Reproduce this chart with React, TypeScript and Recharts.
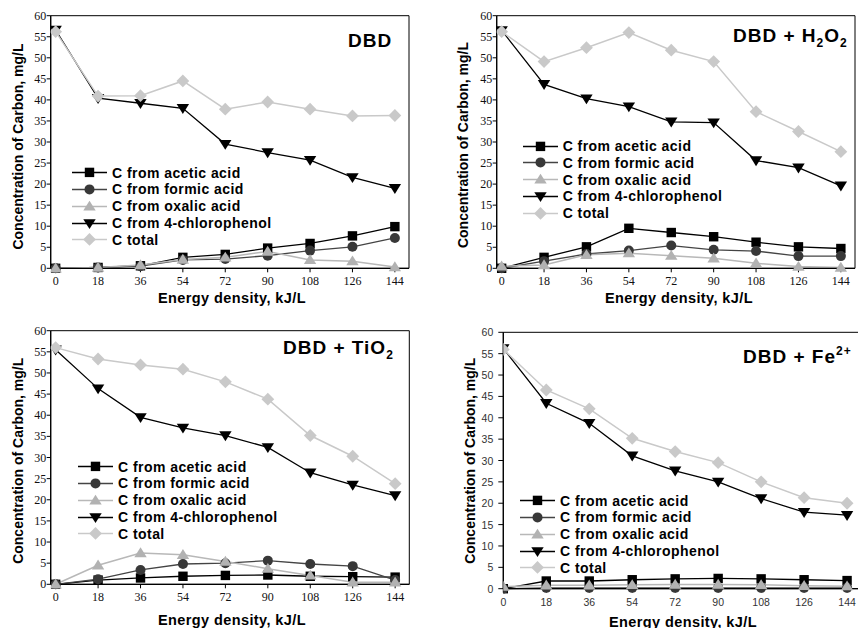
import { LineChart, Line, XAxis, YAxis, ReferenceArea, Legend } from "recharts";

// x values (energy density, kJ/L)
const ENERGY = [0, 18, 36, 54, 72, 90, 108, 126, 144];
const Y_TICKS = [0, 5, 10, 15, 20, 25, 30, 35, 40, 45, 50, 55, 60];
const Y_MINOR = [2.5, 7.5, 12.5, 17.5, 22.5, 27.5, 32.5, 37.5, 42.5, 47.5, 52.5, 57.5];

// DBD
const DBD_ACETIC = [0, 0.2, 0.6, 2.6, 3.3, 4.8, 5.9, 7.7, 9.9];
const DBD_FORMIC = [0, 0.2, 0.5, 2.0, 2.2, 3.0, 4.2, 5.1, 7.2];
const DBD_OXALIC = [0, 0.2, 0.8, 2.1, 2.6, 4.0, 2.0, 1.7, 0.3];
const DBD_CP = [56.6, 40.4, 39.2, 38.0, 29.5, 27.5, 25.7, 21.6, 19.0];
const DBD_TOTAL = [56.2, 40.9, 41.0, 44.5, 37.8, 39.5, 37.8, 36.2, 36.3];

// DBD + H2O2
const H2O2_ACETIC = [0, 2.6, 5.1, 9.5, 8.5, 7.5, 6.2, 5.1, 4.7];
const H2O2_FORMIC = [0, 1.7, 3.4, 4.2, 5.4, 4.4, 4.1, 2.9, 2.9];
const H2O2_OXALIC = [0.5, 0.8, 3.2, 3.6, 3.0, 2.4, 1.2, 0.4, 0.2];
const H2O2_CP = [56.5, 43.7, 40.3, 38.4, 34.8, 34.6, 25.6, 23.9, 19.6];
const H2O2_TOTAL = [56.2, 49.1, 52.4, 56.0, 51.8, 49.1, 37.2, 32.5, 27.7];

// DBD + TiO2
const TIO2_ACETIC = [0, 1.0, 1.5, 1.9, 2.1, 2.2, 1.9, 1.8, 1.7];
const TIO2_FORMIC = [0, 1.2, 3.4, 4.8, 5.0, 5.6, 4.8, 4.3, 1.0];
const TIO2_OXALIC = [0, 4.5, 7.4, 7.0, 5.4, 3.7, 2.1, 0.5, 0.5];
const TIO2_CP = [55.5, 46.3, 39.5, 37.0, 35.2, 32.4, 26.4, 23.5, 21.0];
const TIO2_TOTAL = [56.0, 53.3, 51.9, 50.9, 47.9, 43.8, 35.2, 30.3, 23.8];

// DBD + Fe2+
const FE_ACETIC = [0, 1.8, 1.8, 2.1, 2.3, 2.4, 2.3, 2.1, 1.9];
const FE_FORMIC = [0, 0.2, 0.2, 0.2, 0.2, 0.2, 0.2, 0.2, 0.2];
const FE_OXALIC = [0.5, 0.8, 0.8, 0.9, 1.0, 1.0, 0.9, 0.7, 0.6];
const FE_CP = [56.2, 43.4, 38.7, 31.1, 27.6, 25.0, 21.1, 17.9, 17.2];
const FE_TOTAL = [56.0, 46.5, 42.1, 35.2, 32.1, 29.5, 25.0, 21.3, 20.0];

const SERIES = [
  { key: "acetic", name: "C from acetic acid", shape: "square", color: "#000000", line: "#000000" },
  { key: "formic", name: "C from formic acid", shape: "circle", color: "#383838", line: "#444444" },
  { key: "oxalic", name: "C from oxalic acid", shape: "triangle", color: "#b2b2b2", line: "#b8b8b8" },
  { key: "cp", name: "C from 4-chlorophenol", shape: "down", color: "#000000", line: "#000000" },
  { key: "total", name: "C total", shape: "diamond", color: "#c9c9c9", line: "#c9c9c9" },
];

const SANS = "'Liberation Sans', Arial, sans-serif";
const SERIF = "'Liberation Serif', 'Times New Roman', serif";

function Marker({ shape, cx, cy, fill }: any) {
  if (cx == null || cy == null) return <g />;
  switch (shape) {
    case "square":
      return <rect x={cx - 4.7} y={cy - 4.7} width={9.4} height={9.4} fill={fill} />;
    case "circle":
      return <circle cx={cx} cy={cy} r={5} fill={fill} />;
    case "triangle":
      return <polygon points={`${cx},${cy - 5.7} ${cx + 6.2},${cy + 4.2} ${cx - 6.2},${cy + 4.2}`} fill={fill} />;
    case "down":
      return <polygon points={`${cx},${cy + 5.7} ${cx + 6.2},${cy - 4.2} ${cx - 6.2},${cy - 4.2}`} fill={fill} />;
    default:
      return <polygon points={`${cx},${cy - 6.4} ${cx + 6.4},${cy} ${cx},${cy + 6.4} ${cx - 6.4},${cy}`} fill={fill} />;
  }
}

function LegendBox() {
  return (
    <div style={{ fontFamily: SANS, fontWeight: "bold", fontSize: 14, color: "#000" }}>
      {SERIES.map((s) => (
        <div key={s.key} style={{ display: "flex", alignItems: "center", height: 16.8, whiteSpace: "nowrap" }}>
          <svg width={40} height={16.8} style={{ display: "block" }}>
            <line x1={0} x2={35} y1={8.4} y2={8.4} stroke={s.line} strokeWidth={1.5} />
            <Marker shape={s.shape} cx={17.5} cy={8.4} fill={s.color} />
          </svg>
          <span style={{ letterSpacing: 0.45 }}>{s.name}</span>
        </div>
      ))}
    </div>
  );
}

interface PanelCfg {
  values: { acetic: number[]; formic: number[]; oxalic: number[]; cp: number[]; total: number[] };
  box: { x: number; y: number; w: number; h: number };
  plot: { l: number; t: number; r: number; b: number };
  xDomain: [number, number];
  sans: boolean;
  legend: { left: number; top: number };
  yTitle: { x: number; y: number };
  xTitle: { x: number; y: number };
  xTickGap: number;
}

function Panel({ cfg }: { cfg: PanelCfg }) {
  const { box, plot, values } = cfg;
  const rows = ENERGY.map((e, i) => ({
    e,
    acetic: values.acetic[i],
    formic: values.formic[i],
    oxalic: values.oxalic[i],
    cp: values.cp[i],
    total: values.total[i],
  }));
  const yWidth = plot.l - box.x;
  const xHeight = 30;
  const margin = {
    top: plot.t - box.y,
    left: 0,
    right: box.x + box.w - plot.r,
    bottom: box.y + box.h - plot.b - xHeight,
  };
  const font = cfg.sans
    ? { fontFamily: SANS, fontSize: 10.5, fill: "#333" }
    : { fontFamily: SERIF, fontSize: 12, fill: "#111" };

  const XTick = (p: any) => (
    <text
      x={p.x}
      y={plot.b - box.y + cfg.xTickGap}
      textAnchor="middle"
      dominantBaseline="central"
      fontFamily={font.fontFamily}
      fontSize={font.fontSize}
      fill={font.fill}
    >
      {p.payload.value}
    </text>
  );
  const YTick = (p: any) => (
    <text
      x={plot.l - box.x - (cfg.sans ? 10 : 4.5)}
      y={p.y}
      textAnchor="end"
      dominantBaseline="central"
      fontFamily={font.fontFamily}
      fontSize={font.fontSize}
      fill={font.fill}
    >
      {p.payload.value}
    </text>
  );

  const yx = cfg.yTitle.x - box.x;
  const yy = cfg.yTitle.y - box.y;

  return (
    <div style={{ position: "absolute", left: box.x, top: box.y }}>
      <LineChart width={box.w} height={box.h} data={rows} margin={margin}>
        <XAxis
          dataKey="e"
          type="number"
          domain={cfg.xDomain}
          ticks={ENERGY}
          interval={0}
          allowDataOverflow
          height={xHeight}
          tickSize={4}
          tick={XTick}
          axisLine={{ stroke: "#000", strokeWidth: 1.2 }}
          tickLine={{ stroke: "#000" }}
          label={() => (
            <text
              x={cfg.xTitle.x - box.x}
              y={cfg.xTitle.y - box.y}
              textAnchor="middle"
              dominantBaseline="central"
              fontFamily={SANS}
              fontWeight="bold"
              fontSize={14.5}
              fill="#000"
              letterSpacing={0.4}
            >
              Energy density, kJ/L
            </text>
          )}
        />
        <YAxis
          yAxisId="main"
          type="number"
          domain={[0, 60]}
          ticks={Y_TICKS}
          interval={0}
          width={yWidth}
          tickSize={cfg.sans ? 5 : 4}
          tick={YTick}
          axisLine={{ stroke: "#000", strokeWidth: 1.2 }}
          tickLine={{ stroke: "#000" }}
          label={() => (
            <text
              x={yx}
              y={yy}
              transform={`rotate(-90, ${yx}, ${yy})`}
              textAnchor="middle"
              dominantBaseline="central"
              fontFamily={SANS}
              fontWeight="bold"
              fontSize={14}
              fill="#000"
            >
              Concentration of Carbon, mg/L
            </text>
          )}
        />
        <YAxis
          yAxisId="minor"
          type="number"
          domain={[0, 60]}
          ticks={Y_MINOR}
          interval={0}
          mirror
          width={0}
          tickSize={3}
          axisLine={false}
          tickLine={{ stroke: "#000" }}
          tick={() => <g />}
        />
        <ReferenceArea
          yAxisId="main"
          x1={cfg.xDomain[0]}
          x2={cfg.xDomain[1]}
          y1={0}
          y2={60}
          fill="none"
          stroke="#000"
          strokeWidth={1}
          ifOverflow="visible"
        />
        {SERIES.map((s) => (
          <Line
            key={s.key}
            yAxisId="main"
            dataKey={s.key}
            name={s.name}
            stroke={s.line}
            strokeWidth={s.key === "total" || s.key === "oxalic" ? 1.5 : 1.3}
            isAnimationActive={false}
            dot={(p: any) => <Marker key={`${s.key}-${p.index}`} shape={s.shape} cx={p.cx} cy={p.cy} fill={s.color} />}
            activeDot={false}
          />
        ))}
        <Legend
          layout="vertical"
          align="center"
          verticalAlign="middle"
          content={() => <LegendBox />}
          wrapperStyle={{ left: cfg.legend.left, top: cfg.legend.top, width: "auto", bottom: "auto" }}
        />
      </LineChart>
    </div>
  );
}

const PANELS: PanelCfg[] = [
  {
    values: { acetic: DBD_ACETIC, formic: DBD_FORMIC, oxalic: DBD_OXALIC, cp: DBD_CP, total: DBD_TOTAL },
    box: { x: 0, y: 0, w: 429, h: 310 },
    plot: { l: 50.7, t: 15.7, r: 409, b: 268.3 },
    xDomain: [-2.1, 150],
    sans: false,
    legend: { left: 72, top: 164.3 },
    yTitle: { x: 18.3, y: 146.5 },
    xTitle: { x: 232, y: 297.7 },
    xTickGap: 12.7,
  },
  {
    values: { acetic: H2O2_ACETIC, formic: H2O2_FORMIC, oxalic: H2O2_OXALIC, cp: H2O2_CP, total: H2O2_TOTAL },
    box: { x: 429, y: 0, w: 429, h: 310 },
    plot: { l: 496.7, t: 15.7, r: 855, b: 268.3 },
    xDomain: [-2.1, 150],
    sans: false,
    legend: { left: 93.7, top: 137.6 },
    yTitle: { x: 463.3, y: 145 },
    xTitle: { x: 679, y: 297.7 },
    xTickGap: 12.7,
  },
  {
    values: { acetic: TIO2_ACETIC, formic: TIO2_FORMIC, oxalic: TIO2_OXALIC, cp: TIO2_CP, total: TIO2_TOTAL },
    box: { x: 0, y: 310, w: 429, h: 318 },
    plot: { l: 50.7, t: 330.7, r: 409.3, b: 584.3 },
    xDomain: [-2.1, 150],
    sans: false,
    legend: { left: 78, top: 148.3 },
    yTitle: { x: 18.3, y: 460.8 },
    xTitle: { x: 232, y: 619.5 },
    xTickGap: 13,
  },
  {
    values: { acetic: FE_ACETIC, formic: FE_FORMIC, oxalic: FE_OXALIC, cp: FE_CP, total: FE_TOTAL },
    box: { x: 429, y: 310, w: 440, h: 318 },
    plot: { l: 503.3, t: 332.3, r: 861.4, b: 588.7 },
    xDomain: [0, 150],
    sans: true,
    legend: { left: 91, top: 182.3 },
    yTitle: { x: 470, y: 460.8 },
    xTitle: { x: 683, y: 621.5 },
    xTickGap: 13.3,
  },
];

export default function App() {
  const t = { fontFamily: SANS, fontWeight: "bold" as const, fontSize: 19, fill: "#000", letterSpacing: 1 };
  return (
    <div
      style={{
        position: "absolute",
        left: 0,
        top: 0,
        width: 858,
        height: 628,
        overflow: "hidden",
        background: "#fff",
      }}
    >
      {PANELS.map((cfg, i) => (
        <Panel key={i} cfg={cfg} />
      ))}
      <svg width={858} height={628} style={{ position: "absolute", left: 0, top: 0, pointerEvents: "none" }}>
        <text x={348} y={47} {...t}>DBD</text>
        <text x={733} y={42} {...t}>
          DBD + H
          <tspan fontSize={12} dy={5}>2</tspan>
          <tspan dy={-5}>O</tspan>
          <tspan fontSize={12} dy={5}>2</tspan>
        </text>
        <text x={283} y={353.5} {...t}>
          DBD + TiO
          <tspan fontSize={12} dy={5}>2</tspan>
        </text>
        <text x={743} y={363} {...t}>
          DBD + Fe
          <tspan fontSize={12} dy={-8}>2+</tspan>
        </text>
      </svg>
    </div>
  );
}
